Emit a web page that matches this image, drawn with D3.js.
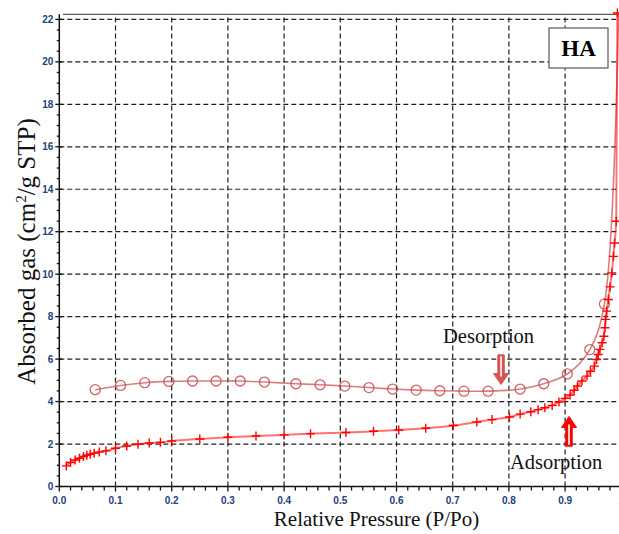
<!DOCTYPE html>
<html>
<head>
<meta charset="utf-8">
<script src="https://cdn.jsdelivr.net/npm/d3@7"></script>
<style>
  html, body { margin: 0; padding: 0; background: #fff; }
  svg { display: block; }
</style>
</head>
<body>
<script>
////////////////////
//     DATA      ///
////////////////////

// adsorption branch (crosses)
var adsP = [0.0125, 0.020, 0.028, 0.036, 0.043, 0.049, 0.055, 0.062, 0.071, 0.083,
            0.10, 0.12, 0.14, 0.16, 0.18, 0.20, 0.25, 0.30, 0.35, 0.40,
            0.447, 0.51, 0.559, 0.604, 0.652, 0.701, 0.743, 0.77, 0.801, 0.82,
            0.839, 0.852, 0.864, 0.877, 0.889, 0.90, 0.909, 0.916, 0.922, 0.93,
            0.939, 0.945, 0.952, 0.956, 0.959, 0.962, 0.966, 0.969, 0.971, 0.972,
            0.974, 0.977, 0.98, 0.983, 0.986, 0.988, 0.991, 0.993];
var adsV = [0.97, 1.13, 1.25, 1.33, 1.41, 1.47, 1.52, 1.57, 1.62, 1.68,
            1.80, 1.91, 1.99, 2.05, 2.08, 2.14, 2.24, 2.32, 2.38, 2.43,
            2.49, 2.54, 2.60, 2.66, 2.74, 2.87, 3.04, 3.15, 3.27, 3.41,
            3.52, 3.62, 3.71, 3.82, 3.98, 4.15, 4.31, 4.53, 4.73, 4.97,
            5.20, 5.43, 5.67, 5.98, 6.22, 6.46, 6.77, 7.08, 7.48, 7.87,
            8.26, 8.81, 9.40, 10.06, 10.84, 11.47, 12.49, 22.3];

// desorption branch (circles), first value is the top of the loop
var desP = [0.995, 0.970, 0.944, 0.904, 0.862, 0.82, 0.763, 0.72, 0.677, 0.635,
            0.593, 0.551, 0.508, 0.464, 0.421, 0.365, 0.322, 0.279, 0.237, 0.195,
            0.152, 0.109, 0.064];
var desV = [22.3, 8.6, 6.45, 5.30, 4.84, 4.59, 4.49, 4.49, 4.51, 4.54,
            4.59, 4.66, 4.73, 4.79, 4.84, 4.92, 4.97, 4.97, 4.97, 4.95,
            4.89, 4.76, 4.56];

var xTicks = [0, 0.1, 0.2, 0.3, 0.4, 0.5, 0.6, 0.7, 0.8, 0.9, 1.0];
var yTicks = [0, 2, 4, 6, 8, 10, 12, 14, 16, 18, 20, 22];

////////////////////
//    OPTIONS    ///
////////////////////
var w = 619, h = 534;
var serif = "'Liberation Serif', 'Times New Roman', serif";
var sans = "'Liberation Sans', Arial, sans-serif";
var adsColor = "#ff0000";
var desColor = "#c9484a";

var x = d3.scaleLinear().domain([0, 1]).range([59.3, 621.3]);
var y = d3.scaleLinear().domain([0, 22.24]).range([486.5, 14.3]);

var svg = d3.select("body").append("svg")
    .attr("width", w)
    .attr("height", h);

//grid
svg.append("g").selectAll("line")
    .data(xTicks.filter(function(d) { return d > 0; }))
  .enter().append("line")
    .attr("x1", function(d) { return x(d); })
    .attr("x2", function(d) { return x(d); })
    .attr("y1", y(0))
    .attr("y2", y.range()[1])
    .attr("stroke", "#222")
    .attr("stroke-width", 1.2)
    .attr("stroke-dasharray", "5,3");

svg.append("g").selectAll("line")
    .data(yTicks.filter(function(d) { return d > 0; }))
  .enter().append("line")
    .attr("x1", x(0))
    .attr("x2", w)
    .attr("y1", function(d) { return y(d); })
    .attr("y2", function(d) { return y(d); })
    .attr("stroke", "#222")
    .attr("stroke-width", 1.2)
    .attr("stroke-dasharray", "5,3");

//top frame line
svg.append("line")
    .attr("x1", 63).attr("x2", w)
    .attr("y1", y.range()[1]).attr("y2", y.range()[1])
    .attr("stroke", "#333").attr("stroke-width", 1);

//axes
var xMinor = d3.range(0, 1.001, 0.02);
var yMinor = d3.range(0, 22.1, 0.5);

var axes = svg.append("g").attr("stroke", "#111");
axes.append("line")
    .attr("x1", x(0)).attr("x2", w)
    .attr("y1", y(0)).attr("y2", y(0))
    .attr("stroke-width", 1.5);
axes.append("line")
    .attr("x1", x(0)).attr("x2", x(0))
    .attr("y1", y(0)).attr("y2", y.range()[1])
    .attr("stroke-width", 1.5);

axes.selectAll(".xm").data(xMinor).enter().append("line")
    .attr("x1", function(d) { return x(d); })
    .attr("x2", function(d) { return x(d); })
    .attr("y1", y(0))
    .attr("y2", function(d, i) { return y(0) + (i % 5 === 0 ? 5 : 4); })
    .attr("stroke-width", 1.3);

axes.selectAll(".ym").data(yMinor).enter().append("line")
    .attr("x1", function(d, i) { return x(0) - (i % 4 === 0 ? 4 : 2.5); })
    .attr("x2", function(d, i) { return x(0) + (i % 4 === 0 ? 3 : 0); })
    .attr("y1", function(d) { return y(d); })
    .attr("y2", function(d) { return y(d); })
    .attr("stroke-width", 1.3);

//tick labels
svg.append("g").selectAll("text")
    .data(xTicks)
  .enter().append("text")
    .attr("x", function(d) { return x(d); })
    .attr("y", y(0) + 17)
    .attr("text-anchor", "middle")
    .style("font-family", sans)
    .style("font-size", "10px")
    .style("font-weight", "bold")
    .style("fill", "#24407e")
    .text(function(d) { return d === 1 ? "1" : d.toFixed(1); });

svg.append("g").selectAll("text")
    .data(yTicks)
  .enter().append("text")
    .attr("x", x(0) - 6)
    .attr("y", function(d) { return y(d) + 3.5; })
    .attr("text-anchor", "end")
    .style("font-family", sans)
    .style("font-size", "10px")
    .style("font-weight", "bold")
    .style("fill", "#24407e")
    .text(function(d) { return d; });

//axis titles
svg.append("text")
    .attr("x", 376.5)
    .attr("y", 526)
    .attr("text-anchor", "middle")
    .style("font-family", serif)
    .style("font-size", "21px")
    .style("fill", "#111")
    .text("Relative Pressure (P/Po)");

var yl = svg.append("text")
    .attr("transform", "translate(35,251.5) rotate(-90)")
    .attr("text-anchor", "middle")
    .style("font-family", serif)
    .style("font-size", "25px")
    .style("fill", "#111");
yl.append("tspan").text("Absorbed gas (cm");
yl.append("tspan").attr("dy", -9).style("font-size", "15px").text("2");
yl.append("tspan").attr("dy", 9).text("/g STP)");

//series
var ads = adsP.map(function(p, i) { return [p, adsV[i]]; });
var des = desP.map(function(p, i) { return [p, desV[i]]; });

var line = d3.line()
    .x(function(d) { return x(d[0]); })
    .y(function(d) { return y(d[1]); })
    .curve(d3.curveMonotoneX);

svg.append("path")
    .datum(des)
    .attr("d", d3.line().x(function(d) { return x(d[0]); }).y(function(d) { return y(d[1]); }).curve(d3.curveCatmullRom))
    .attr("fill", "none")
    .attr("stroke", desColor)
    .attr("stroke-opacity", 0.7)
    .attr("stroke-width", 1.6);

svg.append("g").selectAll("circle")
    .data(des.slice(1))
  .enter().append("circle")
    .attr("cx", function(d) { return x(d[0]); })
    .attr("cy", function(d) { return y(d[1]); })
    .attr("r", 5)
    .attr("fill", "none")
    .attr("stroke", desColor)
    .attr("stroke-opacity", 0.85)
    .attr("stroke-width", 1.3);

svg.append("path")
    .datum(ads)
    .attr("d", line)
    .attr("fill", "none")
    .attr("stroke", adsColor)
    .attr("stroke-opacity", 0.55)
    .attr("stroke-width", 2);

svg.append("g").selectAll("path")
    .data(ads)
  .enter().append("path")
    .attr("d", function(d) {
      var cx = x(d[0]), cy = y(d[1]), s = 4.5;
      return "M" + (cx - s) + "," + cy + "H" + (cx + s) + "M" + cx + "," + (cy - s) + "V" + (cy + s);
    })
    .attr("stroke", adsColor)
    .attr("stroke-width", 1.4);

//annotations
function arrow(cx, yTail, yTip, color) {
  var dir = yTip > yTail ? 1 : -1;
  var headLen = 11, sw = 3.2, hw = 7.5;
  var yBase = yTip - dir * headLen;
  var pts = [
    [cx - sw, yTail], [cx + sw, yTail], [cx + sw, yBase], [cx + hw, yBase],
    [cx, yTip], [cx - hw, yBase], [cx - sw, yBase]
  ];
  svg.append("path")
      .attr("d", "M" + pts.map(function(p) { return p.join(","); }).join("L") + "Z")
      .attr("fill", color)
      .attr("stroke", color)
      .attr("stroke-width", 1);
  svg.append("line")
      .attr("x1", cx).attr("x2", cx)
      .attr("y1", yTail + dir * 1.5).attr("y2", yBase + dir * 3)
      .attr("stroke", "#fff")
      .attr("stroke-width", 1.6);
}
arrow(x(0.786), y(6.2), y(4.8), "#d9534f");
arrow(x(0.907), y(1.9), y(3.3), "#ff0000");

svg.append("text")
    .attr("x", 443)
    .attr("y", 343)
    .style("font-family", serif)
    .style("font-size", "20.5px")
    .style("fill", "#111")
    .text("Desorption");

svg.append("text")
    .attr("x", 510)
    .attr("y", 468.5)
    .style("font-family", serif)
    .style("font-size", "20.5px")
    .style("fill", "#111")
    .text("Adsorption");

//sample label
svg.append("rect")
    .attr("x", 549).attr("y", 28)
    .attr("width", 59).attr("height", 40)
    .attr("fill", "#fff")
    .attr("stroke", "#666")
    .attr("stroke-width", 1.3);
svg.append("text")
    .attr("x", 578.5)
    .attr("y", 56)
    .attr("text-anchor", "middle")
    .style("font-family", serif)
    .style("font-size", "23px")
    .style("font-weight", "bold")
    .style("fill", "#000")
    .text("HA");
</script>
</body>
</html>
